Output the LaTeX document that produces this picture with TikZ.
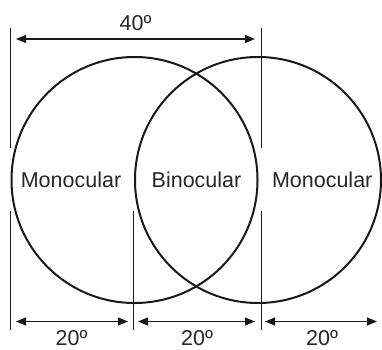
\documentclass[tikz,border=0pt]{standalone}
\usepackage{fontspec}
\setmainfont{Liberation Sans}
\usetikzlibrary{arrows.meta}
\begin{document}
\begin{tikzpicture}[x=1pt,y=1pt,
  fieldcircle/.style={draw=black!90, line width=2pt, circle, minimum size=246pt, inner sep=0pt},
  guide/.style={draw=black!90, line width=0.9pt},
  dimarrow/.style={draw=black!90, line width=1.3pt, {Triangle[length=10pt,width=8pt]}-{Triangle[length=10pt,width=8pt]}},
  lbl/.style={font=\fontsize{21.5}{24}\selectfont, text=black!85, inner sep=0pt, anchor=base}]
\useasboundingbox (0,0) rectangle (382,349);
% circles
\node[fieldcircle] (cl) at (134.5,169) {};
\node[fieldcircle] (cr) at (258,169) {};
% texts
\node[lbl] (m1) at (71,161.7) {Monocular};
\node[lbl] (bi) at (196.5,161.7) {Binocular};
\node[lbl] (m2) at (322.2,161.7) {Monocular};
\node[lbl] (t40) at (135.5,318.3) {40º};
\node[lbl] (t20a) at (71.5,4) {20º};
\node[lbl] (t20b) at (197,4) {20º};
\node[lbl] (t20c) at (322,4) {20º};
% guide lines
\coordinate (g1t) at (10,321); \coordinate (g1m) at (10,201);
\coordinate (g4t) at (261,321); \coordinate (g4m) at (261,201);
\coordinate (g1b) at (10,19); \coordinate (g1u) at (10,138);
\coordinate (g2b) at (133,19); \coordinate (g2u) at (133,138);
\coordinate (g3b) at (261,19); \coordinate (g3u) at (261,138);
\draw[guide] (g1t) -- (g1m);
\draw[guide] (g4t) -- (g4m);
\draw[guide] (g1b) -- (g1u);
\draw[guide] (g2b) -- (g2u);
\draw[guide] (g3b) -- (g3u);
% dimension arrows
\coordinate (a0l) at (16,310); \coordinate (a0r) at (255,310);
\coordinate (a1l) at (16,27.5); \coordinate (a1r) at (128,27.5);
\coordinate (a2l) at (138,27.5); \coordinate (a2r) at (255,27.5);
\coordinate (a3l) at (265,27.5); \coordinate (a3r) at (377,27.5);
\draw[dimarrow] (a0l) -- (a0r);
\draw[dimarrow] (a1l) -- (a1r);
\draw[dimarrow] (a2l) -- (a2r);
\draw[dimarrow] (a3l) -- (a3r);
\end{tikzpicture}
\end{document}
